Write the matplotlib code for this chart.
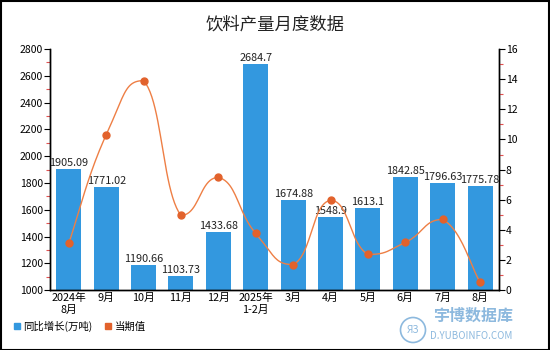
import numpy as np
import matplotlib
matplotlib.use("Agg")
import matplotlib.pyplot as plt
from matplotlib.ticker import MultipleLocator
from matplotlib.lines import Line2D
from matplotlib.patches import Ellipse

plt.rcParams['font.family'] = ['Noto Sans CJK SC', 'DejaVu Sans']

categories = ["2024年\n8月", "9月", "10月", "11月", "12月", "2025年\n1-2月",
              "3月", "4月", "5月", "6月", "7月", "8月"]
bar_values = [1905.09, 1771.02, 1190.66, 1103.73, 1433.68, 2684.7,
              1674.88, 1548.9, 1613.1, 1842.85, 1796.63, 1775.78]
bar_labels = ["1905.09", "1771.02", "1190.66", "1103.73", "1433.68", "2684.7",
              "1674.88", "1548.9", "1613.1", "1842.85", "1796.63", "1775.78"]
line_values = [3.1, 10.3, 13.9, 4.96, 7.48, 3.76, 1.7, 5.96, 2.37, 3.17, 4.69, 0.51]

bar_color = "#3398DF"
line_color = "#EE7F45"
marker_color = "#E2622C"

fig = plt.figure(figsize=(5.5, 3.5), dpi=100)
ax = fig.add_axes([0.091, 0.171, 0.816, 0.689])
ax2 = ax.twinx()

x = np.arange(len(categories))
ax.bar(x, bar_values, width=0.67, color=bar_color, zorder=2)
for xi, v, lab in zip(x, bar_values, bar_labels):
    ax.text(xi, v + 8, lab, ha='center', va='bottom', fontsize=7.8, color='#222222', zorder=5)

# smooth curve drawing between data points, control points clamped (no overshoot)
def smooth(xs, ys, n=24, s=0.5):
    xs = np.asarray(xs, float); ys = np.asarray(ys, float)
    px, py = [], []
    for i in range(len(xs) - 1):
        x0, y0 = (xs[i-1], ys[i-1]) if i > 0 else (xs[i], ys[i])
        x1, y1 = xs[i], ys[i]
        x2, y2 = xs[i+1], ys[i+1]
        x3, y3 = (xs[i+2], ys[i+2]) if i + 2 < len(xs) else (xs[i+1], ys[i+1])
        lo, hi = min(y1, y2), max(y1, y2)
        c1x = x1 + (x2 - x0) * s / 2; c1y = np.clip(y1 + (y2 - y0) * s / 2, lo, hi)
        c2x = x2 - (x3 - x1) * s / 2; c2y = np.clip(y2 - (y3 - y1) * s / 2, lo, hi)
        t = np.linspace(0, 1, n)
        bx = (1-t)**3*x1 + 3*(1-t)**2*t*c1x + 3*(1-t)*t**2*c2x + t**3*x2
        by = (1-t)**3*y1 + 3*(1-t)**2*t*c1y + 3*(1-t)*t**2*c2y + t**3*y2
        px.extend(bx); py.extend(by)
    return px, py

sx, sy = smooth(x, line_values)
ax2.plot(sx, sy, color=line_color, lw=1.0, zorder=3)
ax2.plot(x, line_values, 'o', color=marker_color, ms=5, zorder=4)

ax.set_xlim(-0.5, len(categories) - 0.5)
ax.set_ylim(1000, 2800)
ax2.set_ylim(0, 16)
ax.yaxis.set_major_locator(MultipleLocator(200))
ax.yaxis.set_minor_locator(MultipleLocator(100))
ax2.yaxis.set_major_locator(MultipleLocator(2))
ax2.yaxis.set_minor_locator(MultipleLocator(1))

ax.set_xticks(x)
ax.set_xticklabels(categories, fontsize=7.8, linespacing=1.25)
ax.tick_params(axis='x', length=0, pad=2)
ax.tick_params(axis='y', which='major', length=4, width=0.8, labelsize=7.5, pad=1, color='black')
ax.tick_params(axis='y', which='minor', length=3, width=0.8, color='#E05050')
ax2.tick_params(axis='y', which='major', length=4, width=0.8, labelsize=7.5, pad=1, color='black')
ax2.tick_params(axis='y', which='minor', length=3, width=0.8, color='#E05050')

for a in (ax, ax2):
    a.spines['top'].set_visible(False)
    a.spines['left'].set_linewidth(1.0)
    a.spines['right'].set_linewidth(1.0)
    a.spines['bottom'].set_linewidth(1.0)

fig.text(0.5, 0.93, "饮料产量月度数据", ha='center', va='center', fontsize=12.5, color='#222222')

# legend
handles = [Line2D([], [], marker='s', ls='', color=bar_color, ms=5),
           Line2D([], [], marker='s', ls='', color=marker_color, ms=5)]
fig.legend(handles, ["同比增长(万吨)", "当期值"], loc='lower left',
           bbox_to_anchor=(0.005, 0.025), ncol=2, frameon=False, fontsize=7.5,
           handletextpad=0.1, columnspacing=1.0, handlelength=1.0)

# watermark
wm = '#8DB9DE'
fig.text(0.932, 0.083, "宇博数据库", ha='right', va='baseline', fontsize=11.5, color=wm, weight='bold')
fig.text(0.932, 0.032, "D.YUBOINFO.COM", ha='right', va='baseline', fontsize=7, color=wm)
cx, cy = 413 / 550, 1 - 330 / 350
fig.add_artist(Ellipse((cx, cy), 25 / 550, 25 / 350, transform=fig.transFigure,
                       fill=False, ec=wm, lw=1.2))
fig.text(cx, cy, "ЯЗ", ha='center', va='center', fontsize=7, color=wm, style='italic')

# outer frame
fig.add_artist(plt.Rectangle((0.001, 0.001), 0.997, 0.997, transform=fig.transFigure,
                             fill=False, ec='black', lw=1.5))

fig.savefig("out.png", dpi=100)
